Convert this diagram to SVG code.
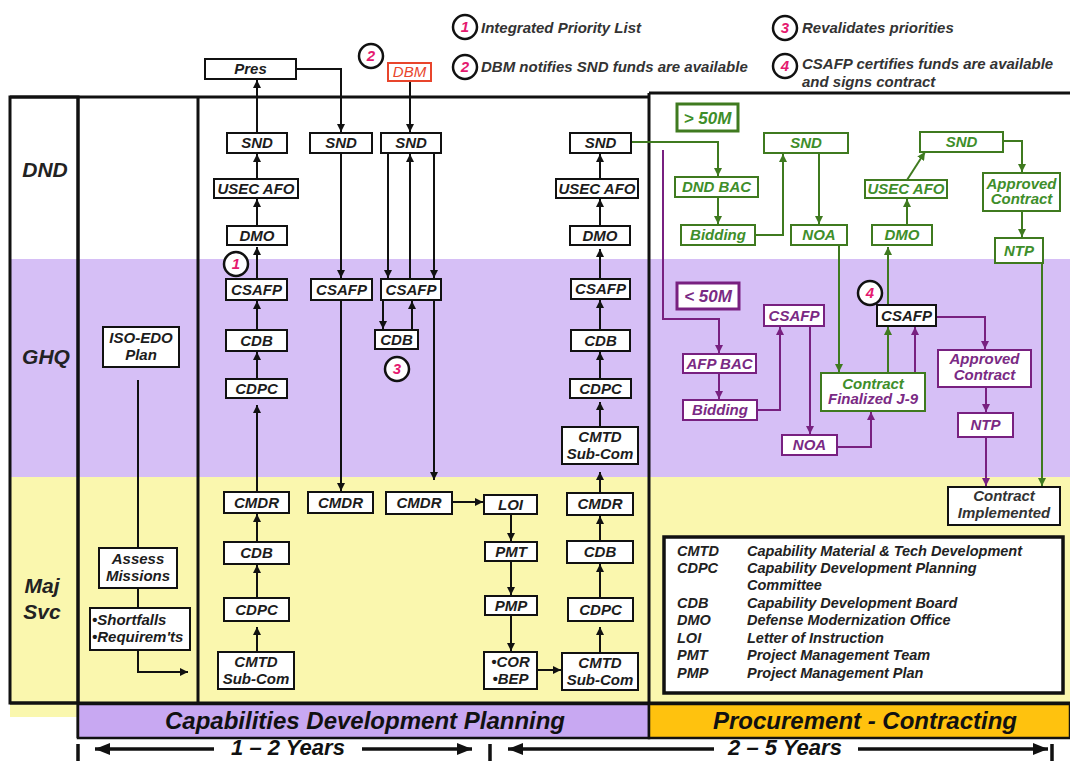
<svg xmlns="http://www.w3.org/2000/svg" width="1070" height="761" viewBox="0 0 1070 761">
<style>
text{font-family:"Liberation Sans",Arial,Helvetica,sans-serif;font-weight:bold;font-style:italic}
.n{font-size:15px;text-anchor:middle;fill:#1c1c1c}
.ng{fill:#3E8E2A}
.np{fill:#7A2A84}
.b{fill:#fff;stroke:#111;stroke-width:2}
.bg{fill:#fff;stroke:#3F7A1F;stroke-width:2}
.bp{fill:#fff;stroke:#782080;stroke-width:2}
.c{fill:#fff;stroke:#111;stroke-width:2.5}
.num{font-size:15px;fill:#E5196F;text-anchor:middle}
.leg{font-size:15px;fill:#333}
.lane{font-size:21px;fill:#222;text-anchor:middle}
.key{font-size:14.5px;fill:#222}
.bar{font-size:24px;fill:#111;text-anchor:middle}
.yr{font-size:22px;fill:#111;text-anchor:middle}
.k{stroke:#111;stroke-width:2;fill:none}
.g{stroke:#3F7A1F;stroke-width:2;fill:none}
.p{stroke:#782080;stroke-width:2;fill:none}
.fr{stroke:#111;stroke-width:3;fill:none}
.tl{stroke:#111;stroke-width:3.5;fill:none}
</style>
<defs>
<marker id="ak" viewBox="0 0 10 10" refX="10" refY="5" markerWidth="8" markerHeight="8" markerUnits="userSpaceOnUse" orient="auto"><path d="M0,0L10,5L0,10z" fill="#111"/></marker>
<marker id="ag" viewBox="0 0 10 10" refX="10" refY="5" markerWidth="8" markerHeight="8" markerUnits="userSpaceOnUse" orient="auto"><path d="M0,0L10,5L0,10z" fill="#3F7A1F"/></marker>
<marker id="ap" viewBox="0 0 10 10" refX="10" refY="5" markerWidth="8" markerHeight="8" markerUnits="userSpaceOnUse" orient="auto"><path d="M0,0L10,5L0,10z" fill="#782080"/></marker>
<marker id="at" viewBox="0 0 10 10" refX="10" refY="5" markerWidth="15" markerHeight="12" markerUnits="userSpaceOnUse" orient="auto" preserveAspectRatio="none"><path d="M0,0L10,5L0,10z" fill="#111"/></marker>
</defs>
<rect x="0" y="0" width="1070" height="761" fill="#fff"/>
<g id="bands">
<rect x="10" y="259" width="1060" height="218" fill="#D6BFF6"/>
<rect x="10" y="477" width="1060" height="228" fill="#FAF7AE"/>
<rect x="10" y="703" width="68" height="14" fill="#FAF7AE"/>
</g>
<g id="frames">
<rect class="fr" x="10" y="97" width="68" height="606"/>
<path class="fr" d="M78,97V738M198,97V703M10,97H649M10,703H1070M649,93V738M649,93H1070"/>
</g>
<g id="bars">
<rect x="78" y="704" width="571" height="34" fill="#C8A8F2" stroke="#111" stroke-width="2.5"/>
<text class="bar" x="365" y="729">Capabilities Development Planning</text>
<rect x="649" y="704" width="421" height="34" fill="#FFC20E" stroke="#111" stroke-width="2.5"/>
<text class="bar" x="865" y="729">Procurement - Contracting</text>
</g>
<g id="timeline">
<path class="tl" d="M78,744V761M490,744V761M1052,744V761"/>
<path class="tl" d="M214,749H95" marker-end="url(#at)"/>
<path class="tl" d="M362,749H472" marker-end="url(#at)"/>
<path class="tl" d="M714,749H508" marker-end="url(#at)"/>
<path class="tl" d="M858,749H1048" marker-end="url(#at)"/>
<text class="yr" x="288" y="755">1 – 2 Years</text>
<text class="yr" x="785" y="755">2 – 5 Years</text>
</g>
<g id="lanes">
<text class="lane" x="45" y="177">DND</text>
<text class="lane" x="46" y="364">GHQ</text>
<text class="lane" x="42" y="593">Maj</text>
<text class="lane" x="42" y="619">Svc</text>
</g>
<g id="legend-top">
<circle class="c" cx="465" cy="27" r="12"/><text class="num" x="465" y="32">1</text>
<text class="leg" x="481" y="33">Integrated Priority List</text>
<circle class="c" cx="465" cy="67" r="12"/><text class="num" x="465" y="72">2</text>
<text class="leg" x="481" y="72">DBM notifies SND funds are available</text>
<circle class="c" cx="785" cy="28" r="12"/><text class="num" x="785" y="33">3</text>
<text class="leg" x="802" y="33">Revalidates priorities</text>
<circle class="c" cx="785" cy="66" r="12"/><text class="num" x="785" y="71">4</text>
<text class="leg" x="802" y="69">CSAFP certifies funds are available</text>
<text class="leg" x="802" y="87">and signs contract</text>
</g>
<g id="connectors">
<g marker-end="url(#ak)">
<path class="k" d="M257,652V627"/><path class="k" d="M257,598V565"/><path class="k" d="M257,542V514"/><path class="k" d="M257,492V405"/><path class="k" d="M257,379V352"/><path class="k" d="M257,330V301"/><path class="k" d="M257,279V247"/><path class="k" d="M257,226V199"/><path class="k" d="M257,179V154"/><path class="k" d="M257,133V80"/>
<path class="k" d="M296,69H341V132"/><path class="k" d="M341,153V278"/><path class="k" d="M341,300V491"/>
<path class="k" d="M410,81V132"/><path class="k" d="M388,153V278"/><path class="k" d="M410,279V154"/><path class="k" d="M434,153V278"/><path class="k" d="M383,300V329"/><path class="k" d="M412,330V301"/><path class="k" d="M434,300V480"/>
<path class="k" d="M452,502H483"/><path class="k" d="M511,514V541"/><path class="k" d="M511,561V595"/><path class="k" d="M511,615V651"/><path class="k" d="M537,670H561"/>
<path class="k" d="M600,653V627"/><path class="k" d="M600,598V564"/><path class="k" d="M600,541V516"/><path class="k" d="M600,493V472"/><path class="k" d="M600,427V402"/><path class="k" d="M600,379V352"/><path class="k" d="M600,330V300"/><path class="k" d="M600,279V249"/><path class="k" d="M600,226V199"/><path class="k" d="M600,179V154"/>
<path class="k" d="M138,650V672H188"/>
</g>
<path class="k" d="M138,380V548M138,588V608"/>
<g marker-end="url(#ag)">
<path class="g" d="M631,142H718V176"/><path class="g" d="M718,197V224"/><path class="g" d="M755,235H783V154"/><path class="g" d="M819,153V224"/><path class="g" d="M839,245V372"/><path class="g" d="M888,373V327"/><path class="g" d="M888,305V247"/><path class="g" d="M907,225V199"/><path class="g" d="M907,180L925,152"/><path class="g" d="M1003,141H1022V172"/><path class="g" d="M1022,211V237"/><path class="g" d="M1042,263V486"/>
</g>
<g marker-end="url(#ap)">
<path class="p" d="M663,150V319H719V353"/><path class="p" d="M719,373V399"/><path class="p" d="M757,410H780V327"/><path class="p" d="M810,326V434"/><path class="p" d="M837,447H871V412"/><path class="p" d="M915,373V327"/><path class="p" d="M936,317H985V349"/><path class="p" d="M986,387V412"/><path class="p" d="M986,437V486"/>
</g>
</g>
<g id="pres"><rect class="b" x="205" y="59" width="91" height="20"/><text class="n" x="250.5" y="74">Pres</text></g>
<g id="dbm"><rect x="388" y="63" width="43" height="18" fill="#fff" stroke="#E8452C" stroke-width="2"/><text x="409.5" y="77" style="font-size:15px;font-weight:normal;fill:#E8452C;text-anchor:middle">DBM</text></g>
<g id="c2b"><circle class="c" cx="371" cy="56" r="12"/><text class="num" x="371" y="61">2</text></g>
<g id="a-snd"><rect class="b" x="227" y="133" width="60" height="20"/><text class="n" x="257" y="148">SND</text></g>
<g id="a-usec"><rect class="b" x="214" y="179" width="84" height="19"/><text class="n" x="256" y="194">USEC AFO</text></g>
<g id="a-dmo"><rect class="b" x="227" y="226" width="60" height="19"/><text class="n" x="257" y="241">DMO</text></g>
<g id="a-csafp"><rect class="b" x="226" y="279" width="61" height="21"/><text class="n" x="256.5" y="295">CSAFP</text></g>
<g id="a-cdb"><rect class="b" x="226" y="330" width="61" height="21"/><text class="n" x="256.5" y="346">CDB</text></g>
<g id="a-cdpc"><rect class="b" x="226" y="379" width="61" height="19"/><text class="n" x="256.5" y="394">CDPC</text></g>
<g id="a-cmdr"><rect class="b" x="224" y="492" width="65" height="21"/><text class="n" x="256.5" y="508">CMDR</text></g>
<g id="a-cdb2"><rect class="b" x="224" y="542" width="65" height="22"/><text class="n" x="256.5" y="558">CDB</text></g>
<g id="a-cdpc2"><rect class="b" x="224" y="598" width="65" height="23"/><text class="n" x="256.5" y="615">CDPC</text></g>
<g id="a-cmtd"><rect class="b" x="218" y="652" width="76" height="37"/><text class="n" x="256" y="667">CMTD</text><text class="n" x="256" y="684">Sub-Com</text></g>
<g id="c1"><circle class="c" cx="236" cy="264" r="12"/><text class="num" x="236" y="269">1</text></g>
<g id="b-snd"><rect class="b" x="310" y="133" width="62" height="20"/><text class="n" x="341" y="148">SND</text></g>
<g id="b-csafp"><rect class="b" x="311" y="279" width="61" height="21"/><text class="n" x="341.5" y="295">CSAFP</text></g>
<g id="b-cmdr"><rect class="b" x="308" y="492" width="65" height="21"/><text class="n" x="340.5" y="508">CMDR</text></g>
<g id="c-snd"><rect class="b" x="381" y="133" width="60" height="20"/><text class="n" x="411" y="148">SND</text></g>
<g id="c-csafp"><rect class="b" x="381" y="279" width="60" height="21"/><text class="n" x="411" y="295">CSAFP</text></g>
<g id="c-cdb"><rect class="b" x="375" y="330" width="43" height="19"/><text class="n" x="396.5" y="345">CDB</text></g>
<g id="c3"><circle class="c" cx="397" cy="369" r="12"/><text class="num" x="397" y="374">3</text></g>
<g id="c-cmdr"><rect class="b" x="386" y="492" width="66" height="22"/><text class="n" x="419" y="508">CMDR</text></g>
<g id="loi"><rect class="b" x="484" y="495" width="53" height="19"/><text class="n" x="510.5" y="510">LOI</text></g>
<g id="pmt"><rect class="b" x="485" y="542" width="52" height="19"/><text class="n" x="511" y="557">PMT</text></g>
<g id="pmp"><rect class="b" x="485" y="596" width="52" height="19"/><text class="n" x="511" y="611">PMP</text></g>
<g id="corbep"><rect class="b" x="484" y="652" width="53" height="37"/><text class="n" x="510.5" y="667">•COR</text><text class="n" x="510.5" y="684">•BEP</text></g>
<g id="d-snd"><rect class="b" x="570" y="133" width="61" height="20"/><text class="n" x="600.5" y="148">SND</text></g>
<g id="d-usec"><rect class="b" x="556" y="179" width="82" height="19"/><text class="n" x="597" y="194">USEC AFO</text></g>
<g id="d-dmo"><rect class="b" x="570" y="226" width="60" height="19"/><text class="n" x="600" y="241">DMO</text></g>
<g id="d-csafp"><rect class="b" x="571" y="279" width="59" height="20"/><text class="n" x="600.5" y="294">CSAFP</text></g>
<g id="d-cdb"><rect class="b" x="571" y="330" width="59" height="21"/><text class="n" x="600.5" y="346">CDB</text></g>
<g id="d-cdpc"><rect class="b" x="570" y="379" width="61" height="19"/><text class="n" x="600.5" y="394">CDPC</text></g>
<g id="d-cmtd1"><rect class="b" x="562" y="427" width="76" height="37"/><text class="n" x="600" y="442">CMTD</text><text class="n" x="600" y="459">Sub-Com</text></g>
<g id="d-cmdr"><rect class="b" x="567" y="493" width="66" height="22"/><text class="n" x="600" y="509">CMDR</text></g>
<g id="d-cdb2"><rect class="b" x="567" y="541" width="66" height="22"/><text class="n" x="600" y="557">CDB</text></g>
<g id="d-cdpc2"><rect class="b" x="568" y="598" width="65" height="23"/><text class="n" x="600.5" y="615">CDPC</text></g>
<g id="d-cmtd2"><rect class="b" x="562" y="653" width="76" height="37"/><text class="n" x="600" y="668">CMTD</text><text class="n" x="600" y="685">Sub-Com</text></g>
<g id="iso"><rect class="b" x="103" y="327" width="76" height="40"/><text class="n" x="141" y="343">ISO-EDO</text><text class="n" x="141" y="360">Plan</text></g>
<g id="assess"><rect class="b" x="99" y="548" width="78" height="40"/><text class="n" x="138" y="564">Assess</text><text class="n" x="138" y="581">Missions</text></g>
<g id="shortfalls"><rect class="b" x="90" y="608" width="100" height="42"/><text class="n" x="92" y="625" style="text-anchor:start">•Shortfalls</text><text class="n" x="92" y="642" style="text-anchor:start">•Requirem'ts</text></g>
<g id="gt50"><rect x="677" y="104" width="61" height="27" fill="#fff" stroke="#3F7A1F" stroke-width="3"/><text class="n ng" x="707.5" y="124" style="font-size:17px">&gt; 50M</text></g>
<g id="g-dndbac"><rect class="bg" x="675" y="177" width="83" height="20"/><text class="n ng" x="716.5" y="192">DND BAC</text></g>
<g id="g-bidding"><rect class="bg" x="681" y="225" width="74" height="20"/><text class="n ng" x="718" y="240">Bidding</text></g>
<g id="g-snd1"><rect class="bg" x="764" y="133" width="84" height="20"/><text class="n ng" x="806" y="148">SND</text></g>
<g id="g-noa"><rect class="bg" x="791" y="225" width="56" height="20"/><text class="n ng" x="819" y="240">NOA</text></g>
<g id="g-dmo"><rect class="bg" x="872" y="225" width="60" height="20"/><text class="n ng" x="902" y="240">DMO</text></g>
<g id="g-usec"><rect class="bg" x="865" y="180" width="82" height="18"/><text class="n ng" x="906" y="194">USEC AFO</text></g>
<g id="g-snd2"><rect class="bg" x="920" y="132" width="83" height="20"/><text class="n ng" x="961.5" y="147">SND</text></g>
<g id="g-approved"><rect class="bg" x="983" y="173" width="77" height="38"/><text class="n ng" x="1021.5" y="189">Approved</text><text class="n ng" x="1021.5" y="204">Contract</text></g>
<g id="g-ntp"><rect class="bg" x="995" y="238" width="48" height="25"/><text class="n ng" x="1019" y="256">NTP</text></g>
<g id="lt50"><rect x="677" y="283" width="62" height="26" fill="#fff" stroke="#782080" stroke-width="3"/><text class="n np" x="708" y="302" style="font-size:17px">&lt; 50M</text></g>
<g id="p-afpbac"><rect class="bp" x="683" y="354" width="73" height="19"/><text class="n np" x="719.5" y="369">AFP BAC</text></g>
<g id="p-bidding"><rect class="bp" x="683" y="400" width="74" height="20"/><text class="n np" x="720" y="415">Bidding</text></g>
<g id="p-csafp"><rect class="bp" x="764" y="305" width="60" height="21"/><text class="n np" x="794" y="321">CSAFP</text></g>
<g id="p-noa"><rect class="bp" x="782" y="435" width="55" height="20"/><text class="n np" x="809.5" y="450">NOA</text></g>
<g id="cfj9"><rect class="bg" x="821" y="373" width="104" height="38"/><text class="n ng" x="873" y="389">Contract</text><text class="n np" x="873" y="404">Finalized J-9</text></g>
<g id="k-csafp"><rect class="b" x="877" y="305" width="59" height="21"/><text class="n" x="906.5" y="321">CSAFP</text></g>
<g id="c4"><circle class="c" cx="870" cy="293" r="12"/><text class="num" x="870" y="298">4</text></g>
<g id="p-approved"><rect class="bp" x="938" y="350" width="93" height="37"/><text class="n np" x="984.5" y="364">Approved</text><text class="n np" x="984.5" y="380">Contract</text></g>
<g id="p-ntp"><rect class="bp" x="958" y="413" width="55" height="24"/><text class="n np" x="985.5" y="430">NTP</text></g>
<g id="implemented"><rect class="b" x="948" y="487" width="112" height="38"/><text class="n" x="1004" y="501" style="fill:#333">Contract</text><text class="n" x="1004" y="518" style="fill:#333">Implemented</text></g>
<g id="key">
<rect x="664" y="537" width="399" height="156" fill="#fff" stroke="#111" stroke-width="3.5"/>
<text class="key" x="677" y="556">CMTD</text><text class="key" x="747" y="556">Capability Material &amp; Tech Development</text>
<text class="key" x="677" y="573">CDPC</text><text class="key" x="747" y="573">Capability Development Planning</text>
<text class="key" x="747" y="590">Committee</text>
<text class="key" x="677" y="608">CDB</text><text class="key" x="747" y="608">Capability Development Board</text>
<text class="key" x="677" y="625">DMO</text><text class="key" x="747" y="625">Defense Modernization Office</text>
<text class="key" x="677" y="643">LOI</text><text class="key" x="747" y="643">Letter of Instruction</text>
<text class="key" x="677" y="660">PMT</text><text class="key" x="747" y="660">Project Management Team</text>
<text class="key" x="677" y="678">PMP</text><text class="key" x="747" y="678">Project Management Plan</text>
</g>
</svg>
